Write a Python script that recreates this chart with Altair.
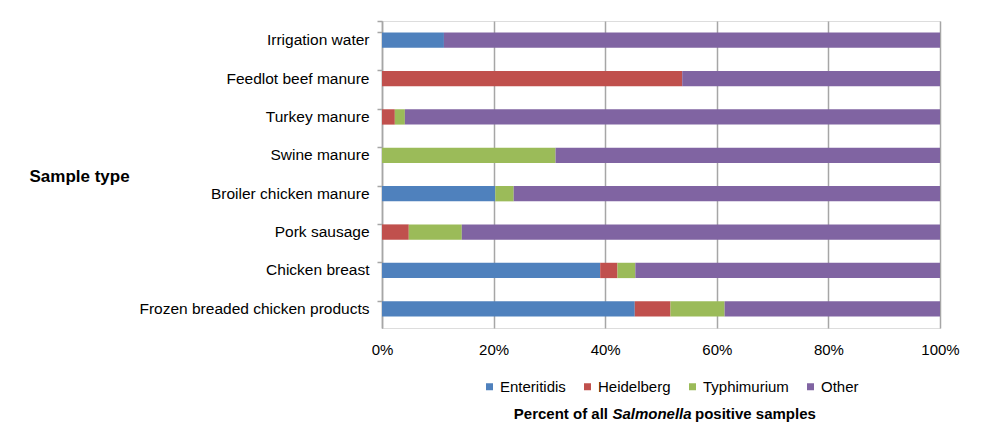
import altair as alt
import pandas as pd

categories = [
    "Irrigation water",
    "Feedlot beef manure",
    "Turkey manure",
    "Swine manure",
    "Broiler chicken manure",
    "Pork sausage",
    "Chicken breast",
    "Frozen breaded chicken products",
]
enteritidis = [11.1, 0.0, 0.0, 0.0, 20.3, 0.0, 39.1, 45.3]
heidelberg = [0.0, 53.8, 2.3, 0.0, 0.0, 4.8, 3.1, 6.4]
typhimurium = [0.0, 0.0, 1.8, 31.1, 3.3, 9.5, 3.2, 9.7]
other = [88.9, 46.2, 95.9, 68.9, 76.4, 85.7, 54.6, 38.6]

series = ["Enteritidis", "Heidelberg", "Typhimurium", "Other"]
colors = ["#4F81BD", "#C0504D", "#9BBB59", "#8064A2"]
x_ticks = [0, 0.2, 0.4, 0.6, 0.8, 1.0]

rows = []
for i, c in enumerate(categories):
    for j, (s, vals) in enumerate(zip(series, [enteritidis, heidelberg, typhimurium, other])):
        rows.append({"sample": c, "serotype": s, "value": vals[i], "idx": j})
df = pd.DataFrame(rows)

FONT = "Liberation Sans"
GREY = "#a6a6a6"

bars = alt.Chart(df).mark_bar().encode(
    x=alt.X(
        "value:Q",
        stack="normalize",
        scale=alt.Scale(domain=[0, 1], nice=False),
        axis=alt.Axis(
            format=".0%", values=x_ticks, title=None, domain=False, ticks=False,
            labelPadding=14, labelFontSize=15, labelColor="#000", labelFont=FONT,
            labelFlush=False, labelOverlap=False,
            grid=True, gridColor=GREY, gridWidth=1.5,
        ),
    ),
    y=alt.Y(
        "sample:N",
        sort=categories,
        scale=alt.Scale(paddingInner=0.6, paddingOuter=0.3),
        axis=alt.Axis(
            title="Sample type", titleAngle=0, titleAlign="left", titleBaseline="alphabetic",
            titleX=-353, titleY=160, titleFontSize=17, titleFontWeight="bold",
            titleColor="#000", titleFont=FONT,
            labelFontSize=15.5, labelColor="#000", labelFont=FONT, labelPadding=8,
            labelLimit=0,
            tickSize=5, tickColor=GREY, tickWidth=1.5,
            domainColor=GREY, domainWidth=1.5,
            bandPosition=0, tickExtra=True, grid=False,
        ),
    ),
    color=alt.Color(
        "serotype:N",
        scale=alt.Scale(domain=series, range=colors),
        legend=alt.Legend(
            title=None, orient="none", direction="horizontal", legendX=100, legendY=358,
            symbolType="square", symbolSize=49, symbolStrokeWidth=0,
            labelFontSize=15, labelOffset=3, columnPadding=14, padding=0,
            labelColor="#000", labelFont=FONT,
        ),
    ),
    order=alt.Order("idx:Q", sort="ascending"),
)

title_parts = [
    ("Percent of all", "right", "normal", 226),
    ("Salmonella", "center", "italic", 270),
    ("positive samples", "left", "normal", 313),
]
layers = [bars]
for text, align, style, xpos in title_parts:
    layers.append(
        alt.Chart(pd.DataFrame({"t": [text]})).mark_text(
            align=align, baseline="alphabetic", font=FONT, fontSize=15,
            fontWeight="bold", fontStyle=style, color="#000",
        ).encode(x=alt.value(xpos), y=alt.value(398), text="t:N")
    )

chart = alt.layer(*layers).properties(
    width=558,
    height=307,
    autosize=alt.AutoSizeParams(type="none"),
    padding={"left": 374, "top": 13, "right": 34, "bottom": 100},
).configure_view(stroke=None).configure(font=FONT)

chart.save("out.html", embed_options={"renderer": "svg", "actions": False})
